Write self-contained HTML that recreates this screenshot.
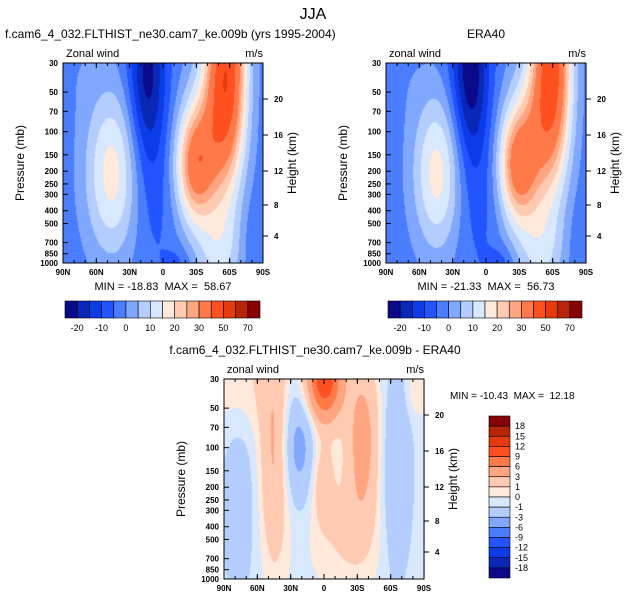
<!DOCTYPE html>
<html><head><meta charset="utf-8">
<style>
body{margin:0;background:#fff;width:626px;height:601px;position:relative;overflow:hidden;font-family:"Liberation Sans",sans-serif}
canvas{position:absolute}
svg{position:absolute;left:0;top:0}
text{white-space:pre}
</style></head>
<body>
<canvas id="c1" width="200" height="200" style="left:63px;top:63px"></canvas>
<canvas id="c2" width="200" height="200" style="left:386px;top:63px"></canvas>
<canvas id="c3" width="201" height="200" style="left:224px;top:379px"></canvas>
<svg id="s" width="626" height="601"></svg>
<script>
// ---- data ----
const latLabels=["90N","60N","30N","0","30S","60S","90S"];
const presTicks=[30,50,70,100,150,200,250,300,400,500,700,850,1000];
const heightTicks=[4,8,12,16,20];
const heightTickY=[236,205,171,135,99];
const fullLevels=[-20,-15,-10,-5,0,5,10,15,20,25,30,40,50,60,70];
const fullLabels=["-20","-10","0","10","20","30","50","70"];
const fullColors=["#0a0a8a","#0a28b8","#0a3ce8","#2255ff","#4a7dff","#80a8ff","#b4cdff","#d8e8ff","#ffe9da","#ffcab2","#ffa680","#ff7a48","#ff5020","#e63a0c","#b82608","#880404"];
const diffLevels=[-18,-15,-12,-9,-6,-3,-1,0,1,3,6,9,12,15,18];
const diffLabels=["18","15","12","9","6","3","1","0","-1","-3","-6","-9","-12","-15","-18"];
// blobs: [lat-frac center, pressure-frac center, sx, sy, amplitude]
const modelBase=-3;
const modelBlobs=[[0.25,0.55,0.1,0.3,21],[0.42,0.05,0.065,0.3,-19],[0.43,0.6,0.1,0.3,-5],[0.66,0.52,0.07,0.2,32],[0.82,0.02,0.07,0.4,48],[0.73,0.32,0.09,0.28,13],[0.78,0.95,0.09,0.18,12],[0.95,0.9,0.05,0.15,-3],[0.58,1.0,0.05,0.06,-4],[0.05,0.0,0.1,0.2,2]];
const eraBase=-3;
const eraBlobs=[[0.26,0.55,0.09,0.28,21],[0.42,0.03,0.065,0.3,-21],[0.44,0.6,0.1,0.3,-5],[0.66,0.52,0.07,0.2,33],[0.83,0.02,0.07,0.4,46],[0.73,0.32,0.09,0.28,13],[0.77,0.95,0.09,0.18,12],[0.96,0.9,0.05,0.15,-2],[0.58,1.0,0.05,0.06,-5],[0.05,0.0,0.1,0.2,2]];
const diffBase=-0.5;
const diffBlobs=[[0.25,0.4,0.05,0.38,3.8],[0.5,0.0,0.06,0.14,12],[0.69,0.3,0.06,0.3,4.5],[0.37,0.33,0.06,0.2,-3.5],[0.86,0.45,0.05,0.35,-2.5],[0.6,0.78,0.12,0.2,1.6],[0.49,0.5,0.04,0.15,2.5],[0.07,0.6,0.06,0.35,-1.5],[0.1,0.0,0.15,0.2,1.5],[0.96,0.05,0.04,0.1,1.5]];

function field(b,base,t,s){let v=base;for(const k of b){const dx=(t-k[0])/k[2],dy=(s-k[1])/k[3];v+=k[4]*Math.exp(-0.5*(dx*dx+dy*dy));}return v;}
function lev(v,L){let i=0;while(i<L.length&&v>=L[i])i++;return i;}
function hex(c){return [parseInt(c.substr(1,2),16),parseInt(c.substr(3,2),16),parseInt(c.substr(5,2),16)];}
function draw(id,b,base,L,C){const cv=document.getElementById(id),ctx=cv.getContext('2d');const W=cv.width,H=cv.height;const im=ctx.createImageData(W,H);const cols=C.map(hex);
for(let y=0;y<H;y++)for(let x=0;x<W;x++){const c=cols[lev(field(b,base,x/(W-1),y/(H-1)),L)];const o=(y*W+x)*4;im.data[o]=c[0];im.data[o+1]=c[1];im.data[o+2]=c[2];im.data[o+3]=255;}
ctx.putImageData(im,0,0);}
draw('c1',modelBlobs,modelBase,fullLevels,fullColors);
draw('c2',eraBlobs,eraBase,fullLevels,fullColors);
draw('c3',diffBlobs,diffBase,diffLevels,fullColors);

const S=document.getElementById('s');const NS='http://www.w3.org/2000/svg';
function el(tag,a,txt){const e=document.createElementNS(NS,tag);for(const k in a)e.setAttribute(k,a[k]);if(txt!==undefined)e.textContent=txt;S.appendChild(e);return e;}
function py(p,y0){return y0+200*Math.log(p/30)/Math.log(1000/30);}
function panel(x0,y0,title,tx,ta,left,pre){
  let e;
  e=el('text',{x:tx,y:y0-25,'font-size':12,'text-anchor':ta},title);
  e=el('text',{x:x0+3,y:y0-6,'font-size':11},left);
  e=el('text',{x:x0+200,y:y0-6,'font-size':11,'text-anchor':'end'},'m/s');
  e=el('rect',{x:x0,y:y0,width:200,height:200,fill:'none',stroke:'#000','stroke-width':1});
  presTicks.forEach(p=>{const y=py(p,y0);
    el('line',{x1:x0,x2:x0+5,y1:y,y2:y,stroke:'#000'});
    e=el('text',{x:x0-5,y:y+3,'font-size':8,'text-anchor':'end','font-weight':'bold'},String(p));});
  heightTicks.forEach((h,i)=>{const y=heightTickY[i]-63+y0;
    el('line',{x1:x0+200,x2:x0+205,y1:y,y2:y,stroke:'#000'});
    e=el('text',{x:x0+211,y:y+3,'font-size':8,'font-weight':'bold'},String(h));});
  latLabels.forEach((l,i)=>{const x=x0+i*200/6;
    el('line',{x1:x,x2:x,y1:y0+200,y2:y0+195,stroke:'#000'});el('line',{x1:x,x2:x,y1:y0,y2:y0+5,stroke:'#000'});
    e=el('text',{x:x,y:y0+212,'font-size':8,'text-anchor':'middle','font-weight':'bold'},l);});
  for(let i=0;i<18;i++){const x=x0+i*200/18;el('line',{x1:x,x2:x,y1:y0+200,y2:y0+197,stroke:'#000'});el('line',{x1:x,x2:x,y1:y0,y2:y0+3,stroke:'#000'});}
  e=el('text',{x:x0-39,y:y0+100,'font-size':12,'text-anchor':'middle',transform:`rotate(-90 ${x0-39} ${y0+100})`},'Pressure (mb)');
  e=el('text',{x:x0+233,y:y0+100,'font-size':12,'text-anchor':'middle',transform:`rotate(-90 ${x0+233} ${y0+100})`},'Height (km)');
}
panel(63,63,'f.cam6_4_032.FLTHIST_ne30.cam7_ke.009b (yrs 1995-2004)',5,'start','Zonal wind','model');
panel(386,63,'ERA40',486,'middle','zonal wind','era40');
panel(224,379,'f.cam6_4_032.FLTHIST_ne30.cam7_ke.009b - ERA40',315,'middle','zonal wind','diff');
let e;
e=el('text',{x:313,y:19,'font-size':16,'text-anchor':'middle'},'JJA');
e=el('text',{x:163,y:290,'font-size':11,'text-anchor':'middle'},'MIN = -18.83  MAX =  58.67');
e=el('text',{x:486,y:290,'font-size':11,'text-anchor':'middle'},'MIN = -21.33  MAX =  56.73');
e=el('text',{x:450,y:399,'font-size':10},'MIN = -10.43  MAX =  12.18');
function hbar(x0,pre){const w=(x0===65?195:194)/16;
  fullColors.forEach((c,i)=>{const r=el('rect',{x:x0+i*w,y:301,width:w,height:17,fill:c,stroke:'#000','stroke-width':0.6});});
  fullLabels.forEach((l,i)=>{const t=el('text',{x:x0+(1+2*i)*w,y:331,'font-size':9,'text-anchor':'middle'},l);});}
hbar(65,'model');hbar(388,'era40');
const bh=162/16;
fullColors.slice().reverse().forEach((c,i)=>{const r=el('rect',{x:489,y:416+i*bh,width:21,height:bh,fill:c,stroke:'#000','stroke-width':0.6});});
diffLabels.forEach((l,i)=>{const t=el('text',{x:515,y:416+(i+1)*bh+3,'font-size':9},l);});
</script>
</body></html>
